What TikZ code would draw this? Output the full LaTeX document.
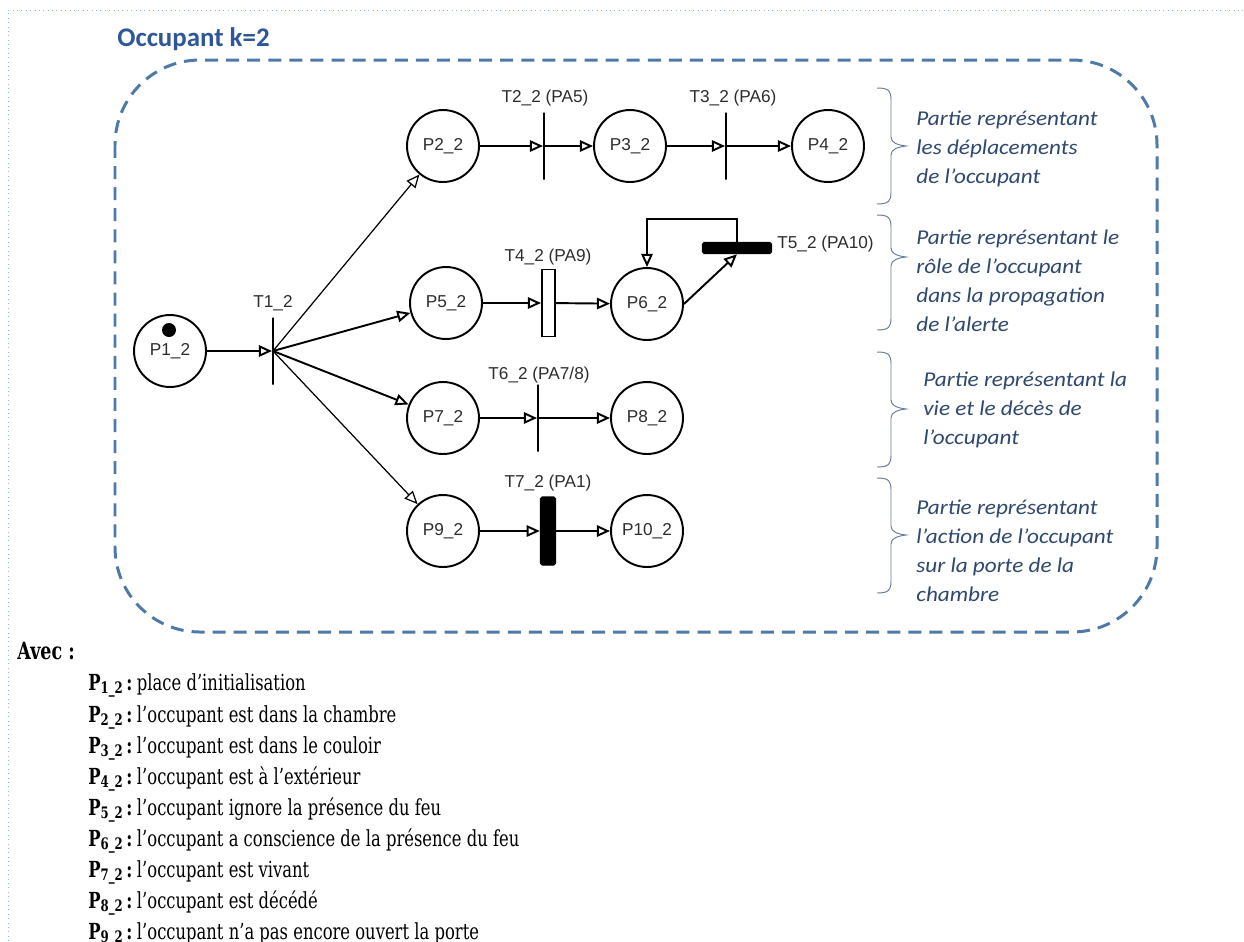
\documentclass[tikz,border=0pt]{standalone}
\usepackage{fontspec}
\usetikzlibrary{arrows.meta}
\newfontfamily\petrifont{Liberation Sans}
\newfontfamily\titlefont{Carlito}
\newfontfamily\notefont[FakeStretch=1.1]{Carlito}
\newfontfamily\deffont[FakeStretch=0.74]{DejaVu Serif}
\definecolor{boxblue}{RGB}{79,122,168}
\definecolor{titleblue}{RGB}{46,86,152}
\definecolor{noteblue}{RGB}{47,72,110}
\definecolor{bracecol}{RGB}{105,125,155}
\definecolor{pagedot}{RGB}{150,180,215}
\definecolor{petrigray}{RGB}{45,45,45}
\newcommand\psub[1]{\raisebox{-0.14em}{\fontsize{9pt}{9pt}\selectfont #1}}
\begin{document}
\begin{tikzpicture}[x=0.02cm,y=-0.02cm,
  place/.style={circle,draw,line width=1.1pt,minimum size=1.44cm,inner sep=0pt,
    font=\petrifont\fontsize{9.8pt}{10pt}\selectfont,text=petrigray},
  tbar/.style={draw,line width=1.1pt,minimum width=0pt,minimum height=1.34cm,inner sep=0pt},
  tlabel/.style={font=\petrifont\fontsize{9.8pt}{10pt}\selectfont,text=petrigray,inner sep=0pt},
  arc/.style={line width=1.1pt,-{Triangle[open,length=7.5pt,width=6.5pt]}},
  thinarc/.style={arc,line width=0.7pt},
  note/.style={font=\notefont\itshape\fontsize{12pt}{13pt}\selectfont,text=noteblue,anchor=base west,inner sep=0pt},
  deftext/.style={font=\deffont\fontsize{12.6pt}{14pt}\selectfont,anchor=base west,inner sep=0pt},
  brace/.style={draw=bracecol,line width=0.55pt}
]
\clip (0,0) rectangle (1244,941);
\fill[white] (0,0) rectangle (1244,941);
% page border
\draw[pagedot,line width=0.5pt,dotted] (8,941) -- (8,10) -- (1244,10);
% title
\node[font=\titlefont\bfseries\fontsize{15.3pt}{16pt}\selectfont,text=titleblue,anchor=base west,inner sep=0pt] (title) at (117,46) {Occupant k=2};
% dashed frame
\draw[boxblue,line width=1.7pt,dash pattern=on 7.4pt off 4.6pt,rounded corners=1.7cm] (115,60) rectangle (1157,632);

% places
\node[place] (P1) at (170,351) {\raisebox{-3pt}{P1\_2}};
\node[circle,fill=black,minimum size=0.28cm,inner sep=0pt] (tok) at (169,330) {};
\node[place] (P2) at (443,146) {P2\_2};
\node[place] (P3) at (630,146) {P3\_2};
\node[place] (P4) at (828,146) {P4\_2};
\node[place] (P5) at (446,303) {P5\_2};
\node[place] (P6) at (647,304) {P6\_2};
\node[place] (P7) at (443,418) {P7\_2};
\node[place] (P8) at (647,418) {P8\_2};
\node[place] (P9) at (443,531) {P9\_2};
\node[place] (P10) at (647,531) {P10\_2};

% transitions
\node[tbar] (T1) at (273,351) {};
\node[tbar] (T2) at (544,146) {};
\node[tbar] (T3) at (726,146) {};
\node[draw,fill=white,line width=1.1pt,minimum width=0.26cm,minimum height=1.34cm,inner sep=0pt] (T4) at (548.5,303) {};
\node[fill=black,draw,line width=0.8pt,rounded corners=1pt,minimum width=1.38cm,minimum height=0.22cm,inner sep=0pt] (T5) at (737,248) {};
\node[tbar] (T6) at (538,418) {};
\node[fill=black,draw,line width=0.8pt,rounded corners=1pt,minimum width=0.3cm,minimum height=1.36cm,inner sep=0pt] (T7) at (548,531) {};

% transition labels
\node[tlabel] (lT1) at (273,303) {T1\_2};
\node[tlabel] (lT2) at (545,98) {T2\_2 (PA5)};
\node[tlabel] (lT3) at (733,98) {T3\_2 (PA6)};
\node[tlabel] (lT4) at (548,257) {T4\_2 (PA9)};
\node[tlabel,anchor=west] (lT5) at (777,244) {T5\_2 (PA10)};
\node[tlabel] (lT6) at (539,375) {T6\_2 (PA7/8)};
\node[tlabel] (lT7) at (548,483) {T7\_2 (PA1)};

% arcs
\draw[arc] (P1) -- (T1);
\draw[thinarc] (T1.center) -- (P2);
\draw[arc] (T1.center) -- (P5);
\draw[arc] (T1.center) -- (P7);
\draw[thinarc] (T1.center) -- (P9);
\draw[arc] (P2) -- (T2);
\draw[arc] (T2) -- (P3);
\draw[arc] (P3) -- (T3);
\draw[arc] (T3) -- (P4);
\draw[arc] (P5) -- (T4);
\draw[arc] (T4) -- (P6);
\draw[arc] (P6.east) -- (T5.south);
\coordinate (loopc) at (647,219);
\draw[arc] (T5.north) |- (loopc) -- (P6.north);
\draw[arc] (P7) -- (T6);
\draw[arc] (T6) -- (P8);
\draw[arc] (P9) -- (T7);
\draw[arc] (T7) -- (P10);

% braces
\foreach \ya/\yt/\yb in {88/146/204, 215/257/330, 352/409/467, 478/535/593}{
  \draw[brace] (877,\ya) .. controls (889,\ya) and (891,\ya+3) .. (891,\ya+12)
    -- (891,\yt-9) .. controls (891,\yt-3) and (898,\yt-1) .. (906,\yt)
    .. controls (898,\yt+1) and (891,\yt+3) .. (891,\yt+9)
    -- (891,\yb-12) .. controls (891,\yb-3) and (889,\yb) .. (877,\yb);
}

% notes
\node[note] (n1a) at (916,125) {Partie représentant};
\node[note] (n1b) at (916,154) {les déplacements};
\node[note] (n1c) at (916,183) {de l’occupant};
\node[note] (n2a) at (916,244) {Partie représentant le};
\node[note] (n2b) at (916,273) {rôle de l’occupant};
\node[note] (n2c) at (916,302) {dans la propagation};
\node[note] (n2d) at (916,331) {de l’alerte};
\node[note] (n3a) at (923,386) {Partie représentant la};
\node[note] (n3b) at (923,415) {vie et le décès de};
\node[note] (n3c) at (923,444) {l’occupant};
\node[note] (n4a) at (916,514) {Partie représentant};
\node[note] (n4b) at (916,543) {l’action de l’occupant};
\node[note] (n4c) at (916,572) {sur la porte de la};
\node[note] (n4d) at (916,601) {chambre};

% definitions
\node[deftext,font=\deffont\bfseries\fontsize{13.5pt}{15pt}\selectfont] (avec) at (17,659) {Avec :};
\node[deftext] (d1) at (88,690) {\textbf{P\psub{1\_2}\,:}\hspace{0.2em}place d’initialisation};
\node[deftext] (d2) at (88,722) {\textbf{P\psub{2\_2}\,:}\hspace{0.2em}l’occupant est dans la chambre};
\node[deftext] (d3) at (88,753) {\textbf{P\psub{3\_2}\,:}\hspace{0.2em}l’occupant est dans le couloir};
\node[deftext] (d4) at (88,784) {\textbf{P\psub{4\_2}\,:}\hspace{0.2em}l’occupant est à l’extérieur};
\node[deftext] (d5) at (88,815) {\textbf{P\psub{5\_2}\,:}\hspace{0.2em}l’occupant ignore la présence du feu};
\node[deftext] (d6) at (88,846) {\textbf{P\psub{6\_2}\,:}\hspace{0.2em}l’occupant a conscience de la présence du feu};
\node[deftext] (d7) at (88,877) {\textbf{P\psub{7\_2}\,:}\hspace{0.2em}l’occupant est vivant};
\node[deftext] (d8) at (88,908) {\textbf{P\psub{8\_2}\,:}\hspace{0.2em}l’occupant est décédé};
\node[deftext] (d9) at (88,939) {\textbf{P\psub{9\_2}\,:}\hspace{0.2em}l’occupant n’a pas encore ouvert la porte};
\end{tikzpicture}
\end{document}
